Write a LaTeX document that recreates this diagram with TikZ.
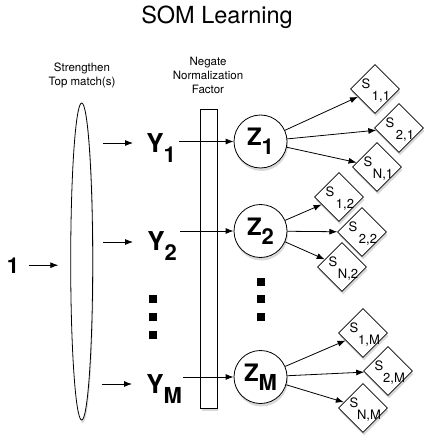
\documentclass[tikz,border=0pt]{standalone}
\usepackage{fontspec}
\setmainfont{TeX Gyre Heros}
\usetikzlibrary{shapes.geometric,arrows.meta,shadows}
\newcommand\lowsub[2][10pt]{\raisebox{-#1}{\fontsize{22}{22}\selectfont #2}}
\newcommand\sdia[3]{%
  \node[dia] (#1) at (#2) {};
  \node[dtext] (#1s) at ([shift={(-9,-5)}]#1.center) {S};
  \node[dtext] (#1i) at ([shift={(6,8)}]#1.center) {#3};}
\begin{document}
\begin{tikzpicture}[x=1pt,y=-1pt,
  line width=0.8pt,
  arr/.style={-{Latex[length=8pt,width=6pt]}},
  shd/.style={drop shadow={shadow xshift=1pt,shadow yshift=-3pt,opacity=0.3}},
  dia/.style={draw,fill=white,diamond,aspect=1,minimum width=49pt,minimum height=49pt,inner sep=0pt,shd},
  dtext/.style={font=\fontsize{13}{13}\selectfont,inner sep=0pt},
  zc/.style={draw,fill=white,circle,minimum size=53pt,inner sep=0pt,shd,font=\fontsize{24}{24}\selectfont\bfseries},
  yl/.style={font=\fontsize{26}{26}\selectfont\bfseries,inner sep=0pt,anchor=base west},
  dotsq/.style={fill=black,minimum size=8pt,inner sep=0pt},
  smalltxt/.style={font=\fontsize{11.5}{14}\selectfont,align=center,inner sep=0pt}
]
\useasboundingbox (0,0) rectangle (434,446);

% title and labels
\node[font=\fontsize{23.5}{23.5}\selectfont,inner sep=0pt,anchor=base] (title) at (217,24) {SOM Learning};
\node[smalltxt] (strl) at (82,75) {Strengthen\\Top match(s)};
\node[smalltxt] (negl) at (208,75) {Negate\\Normalization\\Factor};

% ellipse and bar
\node[draw,fill=white,ellipse,minimum width=22pt,minimum height=317pt,inner sep=0pt,shd] (ell) at (81.7,261.5) {};
\node[draw,fill=white,minimum width=16.5pt,minimum height=299pt,inner sep=0pt,shd] (bar) at (209,258.5) {};

% input 1
\node[font=\fontsize{22}{22}\selectfont\bfseries,inner sep=0pt,anchor=base] (one) at (13,273) {1};
\draw[arr,shorten <=9pt,shorten >=12pt] (one.east) -- (ell.west |- one.east);

% Y labels
\node[yl] (y1) at (146,153) {Y\lowsub{1}};
\node[yl] (y2) at (147,250) {Y\lowsub{2}};
\node[yl] (ym) at (146,393) {Y\lowsub{M}};
\coordinate (y1in) at (133,143);
\coordinate (y2in) at (133,242);
\coordinate (ymin) at (132,384);
\draw[arr,shorten <=10pt] (ell.east |- y1in) -- (y1in);
\draw[arr,shorten <=10pt] (ell.east |- y2in) -- (y2in);
\draw[arr,shorten <=9pt] (ell.east |- ymin) -- (ymin);

% dots
\node[dotsq] (d1) at (153,299) {};
\node[dotsq] (d2) at (153,317) {};
\node[dotsq] (d3) at (153,335) {};
\node[dotsq] (d4) at (261,282) {};
\node[dotsq] (d5) at (261,299) {};
\node[dotsq] (d6) at (261,317) {};

% Z circles
\node[zc] (z1) at (260.5,141.5) {Z\lowsub[9pt]{1}};
\node[zc] (z2) at (260.5,231) {Z\lowsub[9pt]{2}};
\node[zc] (zm) at (260.5,377) {Z\lowsub[9pt]{M}};

\draw[arr,shorten <=3pt] (y1.east |- z1) -- (z1);
\draw[arr,shorten <=3pt] (y2.east |- z2) -- (z2);
\draw[arr,shorten <=1pt] (ym.east |- zm) -- (zm);

% S diamonds
\sdia{s11}{375,89}{1,1}
\sdia{s21}{399,128}{2,1}
\sdia{sn1}{377,167}{N,1}
\sdia{s12}{339,197}{1,2}
\sdia{s22}{362,232}{2,2}
\sdia{sn2}{342,267}{N,2}
\sdia{s1m}{363,333}{1,M}
\sdia{s2m}{388,371}{2,M}
\sdia{snm}{363,408}{N,M}

\draw[arr] (z1) -- (s11);
\draw[arr] (z1) -- (s21);
\draw[arr] (z1) -- (sn1);
\draw[arr] (z2) -- (s12);
\draw[arr] (z2) -- (s22);
\draw[arr] (z2) -- (sn2);
\draw[arr] (zm) -- (s1m);
\draw[arr] (zm) -- (s2m);
\draw[arr] (zm) -- (snm);
\end{tikzpicture}
\end{document}
